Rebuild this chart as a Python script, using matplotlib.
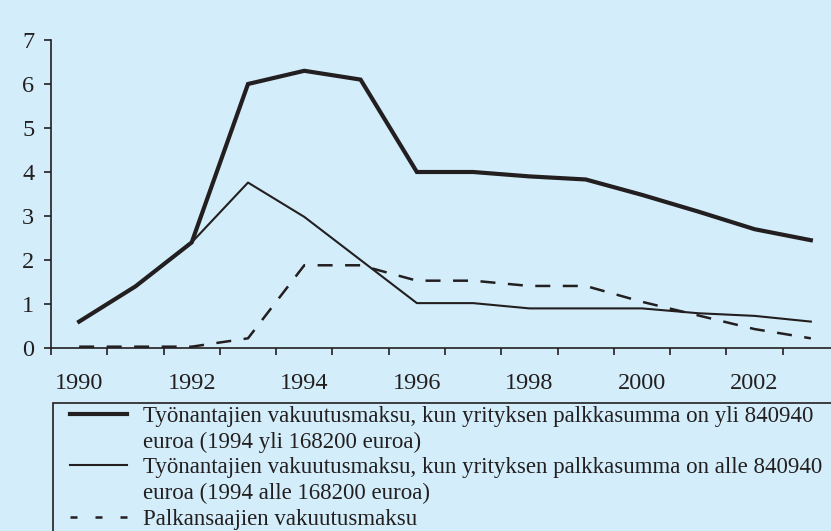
import matplotlib
matplotlib.use("Agg")
import matplotlib.pyplot as plt
from matplotlib.lines import Line2D
from matplotlib.patches import Rectangle

# vuodet ja maksut (%)
years = list(range(1990, 2004))
over_limit = [0.6, 1.4, 2.4, 6.0, 6.3, 6.1, 4.0, 4.0, 3.9, 3.83, 3.48, 3.1, 2.7, 2.45]
under_limit = [0.6, 1.4, 2.4, 3.76, 2.98, 2.0, 1.02, 1.02, 0.9, 0.9, 0.9, 0.79, 0.73, 0.6]
employees = [0.03, 0.03, 0.03, 0.22, 1.88, 1.88, 1.53, 1.53, 1.41, 1.41, 1.05, 0.74, 0.43, 0.22]
labels = ["Työnantajien vakuutusmaksu, kun yrityksen palkkasumma on yli 840940",
          "euroa (1994 yli 168200 euroa)",
          "Työnantajien vakuutusmaksu, kun yrityksen palkkasumma on alle 840940",
          "euroa (1994 alle 168200 euroa)",
          "Palkansaajien vakuutusmaksu"]

bg = "#d3eefa"
ink = "#231f20"
plt.rcParams['font.family'] = ['Liberation Serif', 'DejaVu Serif']

fig = plt.figure(figsize=(8.31, 5.31), dpi=100, facecolor=bg)
ax = fig.add_axes([51/831, 183/531, 788/831, 308/531])
ax.set_facecolor(bg)

x = list(range(len(years)))
ax.plot(x, over_limit, color=ink, lw=3.0, solid_joinstyle='miter')
ax.plot(x, under_limit, color=ink, lw=1.5)
ax.plot(x, employees, color=ink, lw=1.8, linestyle=(0, (6, 5)))

ax.set_xlim(-0.5, 13.5)
ax.set_ylim(0, 7)
ax.set_yticks(range(0, 8))
ax.set_xticks([i - 0.5 for i in range(14)])
ax.set_xticklabels([])
ax.set_xticks(x[::2], minor=True)
ax.set_xticklabels([str(y) for y in years[::2]], minor=True)
ax.tick_params(axis='x', which='major', direction='out', length=5, width=1.2, color=ink)
ax.tick_params(axis='x', which='minor', length=0, pad=18, labelsize=17.5, labelcolor=ink)
ax.tick_params(axis='y', direction='out', length=5, width=1.2, color=ink, pad=7,
               labelsize=17.5, labelcolor=ink)
for s in ['top', 'right']:
    ax.spines[s].set_visible(False)
for s in ['left', 'bottom']:
    ax.spines[s].set_color(ink)
    ax.spines[s].set_linewidth(1.2)

# selitelaatikko
fig.patches.append(Rectangle((53/831, -0.1), 1.0, (531 - 403)/531 + 0.1,
                             transform=fig.transFigure, fill=False, edgecolor=ink, lw=1.2))
blank = Line2D([], [], color='none')
handles = [Line2D([], [], color=ink, lw=3.0), blank,
           Line2D([], [], color=ink, lw=1.5), blank,
           Line2D([], [], color=ink, lw=1.8, linestyle=(0, (2.8, 7.2)))]
fig.legend(handles, labels, loc='upper left', bbox_to_anchor=(70/831, 1 - 406/531),
           frameon=False, fontsize=16.5, handlelength=2.48, handletextpad=0.7,
           labelspacing=0.2, borderpad=0, borderaxespad=0, labelcolor=ink)

fig.savefig("out.png", dpi=100, facecolor=bg)
